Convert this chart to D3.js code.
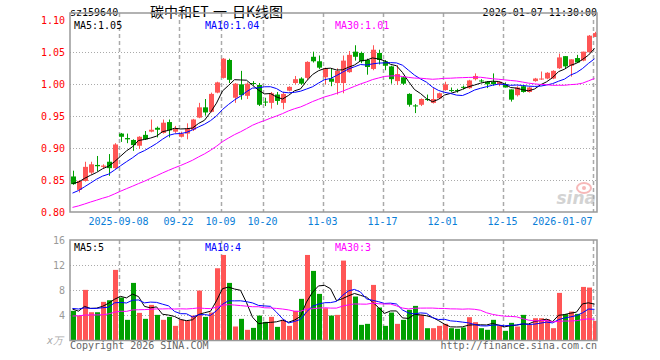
<!DOCTYPE html>
<html>
<head>
<meta charset="utf-8">
<script src="https://cdn.jsdelivr.net/npm/d3@7"></script>
<style>
body { margin: 0; background: #fff; }
svg text { font-family: "DejaVu Sans Mono", monospace; font-size: 10px; }
</style>
</head>
<body>
<svg id="chart" width="660" height="360"></svg>
<script>
// trading days shown on the chart
var dates = [
	"2025-08-27","2025-08-28","2025-08-29","2025-09-01","2025-09-02","2025-09-03","2025-09-04","2025-09-05",
	"2025-09-08","2025-09-09","2025-09-10","2025-09-11","2025-09-12","2025-09-15","2025-09-16","2025-09-17",
	"2025-09-18","2025-09-19","2025-09-22","2025-09-23","2025-09-24","2025-09-25","2025-09-26","2025-09-29",
	"2025-09-30","2025-10-09","2025-10-10","2025-10-13","2025-10-14","2025-10-15","2025-10-16","2025-10-17",
	"2025-10-20","2025-10-21","2025-10-22","2025-10-23","2025-10-24","2025-10-27","2025-10-28","2025-10-29",
	"2025-10-30","2025-10-31","2025-11-03","2025-11-04","2025-11-05","2025-11-06","2025-11-07","2025-11-10",
	"2025-11-11","2025-11-12","2025-11-13","2025-11-14","2025-11-17","2025-11-18","2025-11-19","2025-11-20",
	"2025-11-21","2025-11-24","2025-11-25","2025-11-26","2025-11-27","2025-11-28","2025-12-01","2025-12-02",
	"2025-12-03","2025-12-04","2025-12-05","2025-12-08","2025-12-09","2025-12-10","2025-12-11","2025-12-12",
	"2025-12-15","2025-12-16","2025-12-17","2025-12-18","2025-12-19","2025-12-22","2025-12-23","2025-12-24",
	"2025-12-25","2025-12-26","2025-12-29","2025-12-30","2025-12-31","2026-01-05","2026-01-06","2026-01-07"
];

var open = [
	0.856,0.835,0.849,0.862,0.874,0.871,0.879,0.869,0.923,0.916,
	0.913,0.904,0.921,0.926,0.932,0.924,0.941,0.926,0.918,0.923,
	0.929,0.948,0.964,0.957,0.987,1.010,1.038,0.979,1.000,0.982,
	1.002,0.999,0.973,0.971,0.984,0.971,0.990,1.002,1.009,1.010,
	1.043,1.036,1.011,1.009,1.002,1.002,1.019,1.051,1.049,1.038,
	1.024,1.049,1.036,1.028,1.005,1.011,0.985,0.967,0.968,0.977,
	0.971,0.978,0.991,0.991,0.991,0.996,0.994,1.008,1.006,1.004,
	1.004,1.000,1.000,0.992,0.983,0.997,0.988,1.005,1.008,1.009,
	1.009,1.025,1.044,1.029,1.041,1.037,1.050,1.074
];
var high = [
	0.865,0.850,0.879,0.879,0.888,0.875,0.891,0.908,0.924,0.923,
	0.914,0.919,0.927,0.945,0.934,0.945,0.945,0.935,0.926,0.939,
	0.946,0.971,0.977,0.987,1.004,1.041,1.040,1.002,1.021,1.003,
	1.005,1.002,0.979,0.988,0.988,0.988,0.997,1.013,1.011,1.036,
	1.051,1.045,1.026,1.025,1.025,1.045,1.052,1.061,1.051,1.040,
	1.061,1.054,1.038,1.029,1.030,1.013,0.986,0.969,0.978,0.984,
	0.994,0.987,1.004,0.995,0.993,0.998,1.007,1.017,1.008,1.005,
	1.017,1.004,1.003,0.992,0.997,0.998,0.996,1.010,1.020,1.019,
	1.022,1.048,1.044,1.039,1.046,1.051,1.077,1.082
];
var low = [
	0.843,0.831,0.848,0.860,0.864,0.869,0.857,0.868,0.910,0.908,
	0.896,0.899,0.913,0.925,0.917,0.923,0.917,0.924,0.917,0.914,
	0.927,0.947,0.951,0.956,0.986,1.009,1.002,0.971,0.976,0.977,
	0.998,0.966,0.966,0.962,0.968,0.961,0.989,1.000,0.999,1.007,
	1.034,1.024,1.000,0.997,0.984,0.986,1.018,1.037,1.033,1.015,
	1.022,1.031,1.022,1.001,0.999,0.999,0.965,0.955,0.966,0.974,
	0.970,0.977,0.990,0.988,0.987,0.992,0.993,1.006,1.003,0.994,
	0.998,0.997,0.995,0.973,0.981,0.987,0.987,1.004,1.007,1.008,
	1.008,1.024,1.025,1.012,1.034,1.036,1.050,1.074
];
var close = [
	0.844,0.849,0.871,0.875,0.872,0.873,0.869,0.906,0.918,0.914,
	0.905,0.918,0.914,0.929,0.929,0.940,0.928,0.931,0.923,0.931,
	0.945,0.964,0.956,0.985,1.003,1.040,1.007,1.001,0.983,1.001,
	1.001,0.968,0.972,0.986,0.974,0.985,0.996,1.008,1.001,1.035,
	1.036,1.026,1.025,1.004,1.021,1.037,1.046,1.043,1.036,1.027,
	1.054,1.038,1.029,1.008,1.016,1.001,0.968,0.966,0.977,0.976,
	0.977,0.986,1.000,0.990,0.990,0.995,1.006,1.013,1.005,1.000,
	1.000,1.004,0.995,0.976,0.995,0.988,0.995,1.009,1.009,1.018,
	1.021,1.042,1.028,1.039,1.034,1.051,1.076,1.080
];
// volume, in 万 lots
var volume = [
	4.72,3.97,8.06,4.50,4.50,6.15,6.41,11.24,6.84,3.29,
	9.17,4.40,3.45,5.67,4.08,3.29,3.76,2.33,3.29,3.13,
	3.97,7.95,3.76,4.45,11.50,13.62,9.17,2.23,3.45,1.70,
	2.01,3.97,2.97,3.76,2.17,3.29,2.33,4.72,6.63,13.62,
	11.08,7.42,5.14,3.97,4.08,12.72,9.65,7.00,2.49,2.65,
	8.85,5.25,2.33,4.45,2.65,3.29,4.88,5.51,4.08,1.96,
	1.96,2.33,2.65,1.96,1.86,2.07,3.71,2.92,1.96,1.70,
	3.29,2.39,1.54,2.81,2.23,4.08,2.49,3.55,3.55,3.39,
	1.96,7.58,4.19,4.61,4.24,8.53,8.43,3.13
];
// sessions before the window, only used to start the moving averages (estimated)
var closeBefore = [
	0.779,0.783,0.781,0.786,0.782,0.788,0.785,0.791,0.794,0.790,
	0.796,0.801,0.798,0.805,0.809,0.806,0.812,0.815,0.811,0.818,
	0.809,0.813,0.816,0.812,0.825,0.838,0.842,0.851,0.850
];
var volumeBefore = [
	3.1,4.6,3.4,4.8,5.2,2.6,3.0,2.4,3.8,2.2,
	3.5,2.8,4.1,2.5,3.2,2.9,3.6,2.4,3.9,2.0,
	4.8,6.2,5.4,4.6,5.0,5.6,4.3,6.1,4.28
];

var priceTicks = [0.80, 0.85, 0.90, 0.95, 1.00, 1.05, 1.10];
var volumeTicks = [4, 8, 12, 16];
var dateTicks = ["2025-09-08","2025-09-22","2025-10-09","2025-10-20","2025-11-03",
	"2025-11-17","2025-12-01","2025-12-15","2026-01-07"];
var dateTickLabels = ["2025-09-08","09-22","10-09","10-20","11-03","11-17","12-01","12-15","2026-01-07"];
var maPeriods = [5, 10, 30];
var priceMaText = ["MA5:1.05", "MA10:1.04", "MA30:1.01"];
var volumeMaText = ["MA5:5", "MA10:4", "MA30:3"];
var titleParts = ["碳中和ET", "一", "日K线图"];

var maColors = ["#000000", "#0000ff", "#ff00ff"];
var upColor = "#ff5555", downColor = "#00a000";
var gridColor = "#aaaaaa", frameColor = "#999999";

var left = 70, right = 597;
var priceTop = 13, priceBottom = 212;
var volTop = 240, volBottom = 340.5;

var svg = d3.select("#chart");

var x = d3.scaleBand().domain(dates).range([69.5, 597.5]).padding(0);
var bw = x.bandwidth();
var cx = function(d){ return x(d) + bw / 2; };

var yPrice = d3.scaleLinear().domain([0.80, 1.10]).range([212.3, 20.3]);
var yVol = d3.scaleLinear().domain([0, 16]).range([volBottom, volTop]);

/** media movel incluindo as sessoes anteriores a janela */
function movingAverage(series, before, n){
	var all = before.concat(series), out = [];
	for(var i = 0; i < series.length; i++){
		var end = before.length + i + 1;
		out.push(d3.mean(all.slice(end - n, end)));
	}
	return out;
}

var candles = dates.map(function(d, i){
	return { date: d, o: open[i], h: high[i], l: low[i], c: close[i], v: volume[i] };
});
function candleColor(d){ return d.c >= d.o ? upColor : downColor; }

// clip paths
var defs = svg.append("defs");
defs.append("clipPath").attr("id", "clipPrice").append("rect")
	.attr("x", left).attr("y", priceTop).attr("width", right - left).attr("height", priceBottom - priceTop);
defs.append("clipPath").attr("id", "clipVol").append("rect")
	.attr("x", left).attr("y", volTop).attr("width", right - left).attr("height", volBottom - volTop);

// header
svg.append("text").attr("x", left).attr("y", 16).attr("fill", "#000").text("sz159640");
var title = svg.append("text").attr("y", 17)
	.style("font-family", "'Noto Sans CJK SC', sans-serif").style("font-size", "14px").attr("fill", "#000");
var titleX = [150, 213, 232];
titleParts.forEach(function(t, i){
	title.append("tspan").attr("x", titleX[i]).text(t);
});
svg.append("text").attr("x", right).attr("y", 16).attr("text-anchor", "end")
	.attr("fill", "#000").text("2026-01-07 11:30:00");

function drawGrid(top, bottom, yScale, ticks){
	var g = svg.append("g");
	g.selectAll("line.h").data(ticks).enter().append("line")
		.attr("x1", left).attr("x2", right)
		.attr("y1", function(d){ return Math.round(yScale(d)) + 0.5; })
		.attr("y2", function(d){ return Math.round(yScale(d)) + 0.5; })
		.attr("stroke", gridColor).attr("stroke-dasharray", "1,2");
	g.selectAll("line.v").data(dateTicks).enter().append("line")
		.attr("x1", function(d){ return Math.round(cx(d) - 2) + 0.5; })
		.attr("x2", function(d){ return Math.round(cx(d) - 2) + 0.5; })
		.attr("y1", top).attr("y2", bottom)
		.attr("stroke", gridColor).attr("stroke-width", 1.5).attr("stroke-dasharray", "4,3");
}

drawGrid(priceTop, priceBottom, yPrice, [0.85, 0.90, 0.95, 1.00, 1.05]);
drawGrid(volTop, volBottom, yVol, [4, 8, 12]);

// sina watermark
var wm = svg.append("g").attr("opacity", 0.55);
wm.append("ellipse").attr("cx", 584).attr("cy", 188).attr("rx", 7).attr("ry", 5)
	.attr("fill", "none").attr("stroke", "#f08080").attr("stroke-width", 2);
wm.append("circle").attr("cx", 584).attr("cy", 188).attr("r", 2).attr("fill", "#f08080");
wm.append("text").attr("x", 596).attr("y", 204).attr("text-anchor", "end")
	.style("font-family", "'DejaVu Sans', sans-serif").style("font-size", "17px")
	.style("font-style", "italic").style("font-weight", "bold")
	.attr("fill", "#b0b0b0").text("sina");

// price axis
var priceAxis = d3.axisLeft(yPrice).tickValues(priceTicks).tickSize(0).tickPadding(4)
	.tickFormat(d3.format(".2f"));
var pa = svg.append("g").attr("transform", "translate(" + (left - 1) + ",0)").call(priceAxis);
pa.select(".domain").remove();
pa.selectAll("text").attr("fill", "#ff0000").style("font-size", "10px")
	.style("font-family", "'DejaVu Sans Mono', monospace");

// date axis
var da = svg.append("g");
da.selectAll("text").data(dateTicks).enter().append("text")
	.attr("x", function(d){ return cx(d) - 2; })
	.attr("y", 225)
	.attr("text-anchor", function(d, i){ return i === dateTicks.length - 1 ? "end" : "middle"; })
	.attr("fill", "#0a7ed8")
	.text(function(d, i){ return dateTickLabels[i]; });

// volume axis
var volAxis = d3.axisLeft(yVol).tickValues(volumeTicks).tickSize(0).tickPadding(4);
var va = svg.append("g").attr("transform", "translate(" + (left - 1) + ",0)").call(volAxis);
va.select(".domain").remove();
va.selectAll("text").attr("fill", "#999999").style("font-size", "10px")
	.style("font-family", "'DejaVu Sans Mono', monospace");
svg.append("text").attr("x", 63).attr("y", 344).attr("text-anchor", "end")
	.style("font-style", "italic").attr("fill", "#aaaaaa").text("x万");

// candles
var cg = svg.append("g").attr("clip-path", "url(#clipPrice)");
cg.selectAll("line").data(candles).enter().append("line")
	.attr("x1", function(d){ return Math.round(cx(d.date)) + 0.5; })
	.attr("x2", function(d){ return Math.round(cx(d.date)) + 0.5; })
	.attr("y1", function(d){ return yPrice(d.h); })
	.attr("y2", function(d){ return yPrice(d.l); })
	.attr("stroke", candleColor);
cg.selectAll("rect").data(candles).enter().append("rect")
	.attr("x", function(d){ return Math.round(cx(d.date)) - 2; })
	.attr("width", 5)
	.attr("y", function(d){ return yPrice(Math.max(d.o, d.c)); })
	.attr("height", function(d){ return Math.max(1, Math.abs(yPrice(d.o) - yPrice(d.c))); })
	.attr("fill", candleColor);

// volume bars
var vg = svg.append("g").attr("clip-path", "url(#clipVol)");
vg.selectAll("rect").data(candles).enter().append("rect")
	.attr("x", function(d){ return Math.round(cx(d.date)) - 2; })
	.attr("width", 5)
	.attr("y", function(d){ return yVol(d.v); })
	.attr("height", function(d){ return yVol(0) - yVol(d.v); })
	.attr("fill", candleColor);

// moving averages
maPeriods.forEach(function(n, k){
	var pm = movingAverage(close, closeBefore, n);
	var vm = movingAverage(volume, volumeBefore, n);
	var linePrice = d3.line().x(function(d, i){ return cx(dates[i]); }).y(function(d){ return yPrice(d); });
	var lineVol = d3.line().x(function(d, i){ return cx(dates[i]); }).y(function(d){ return yVol(d); });
	cg.append("path").datum(pm).attr("d", linePrice)
		.attr("fill", "none").attr("stroke", maColors[k]).attr("stroke-width", 1);
	vg.append("path").datum(vm).attr("d", lineVol)
		.attr("fill", "none").attr("stroke", maColors[k]).attr("stroke-width", 1);
});

// legends
var legendX = [74, 205, 335];
maPeriods.forEach(function(n, k){
	svg.append("text").attr("x", legendX[k]).attr("y", 29).attr("fill", maColors[k]).text(priceMaText[k]);
	svg.append("text").attr("x", legendX[k]).attr("y", 250.5).attr("fill", maColors[k]).text(volumeMaText[k]);
});

// frames
[[priceTop, priceBottom], [volTop, volBottom]].forEach(function(p){
	svg.append("rect").attr("x", left).attr("y", p[0])
		.attr("width", right - left).attr("height", p[1] - p[0])
		.attr("fill", "none").attr("stroke", frameColor).attr("stroke-width", 1.5);
});

// footer
svg.append("text").attr("x", left).attr("y", 349).attr("fill", "#666666").text("Copyright 2026 SINA.COM");
svg.append("text").attr("x", right).attr("y", 349).attr("text-anchor", "end")
	.attr("fill", "#666666").text("http://finance.sina.com.cn");
</script>
</body>
</html>
